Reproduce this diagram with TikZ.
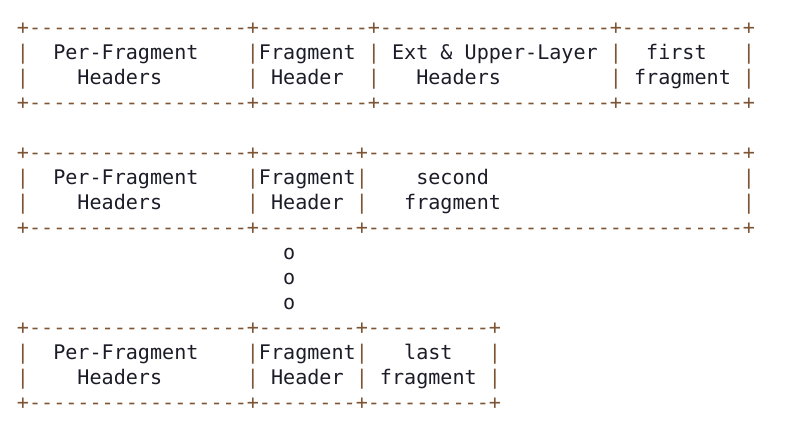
\documentclass[tikz,border=0pt]{standalone}
\usepackage{fontspec}
\setmonofont{DejaVu Sans Mono}
\definecolor{border}{HTML}{7D5535}
\definecolor{ink}{HTML}{1C1C28}
% character grid: column pitch 12.1pt, row pitch 25pt
\newcommand\colx[1]{16.95+12.1*(#1)}
\newcommand\rowy[1]{-(35+25*(#1))}
\tikzset{
  glyph/.style={anchor=base west, inner sep=0pt, outer sep=0pt,
    font=\ttfamily\fontsize{20.1}{25}\selectfont},
  rule/.style={glyph, text=border},
  lbl/.style={glyph, text=ink},
}
\begin{document}
\begin{tikzpicture}[x=1pt,y=1pt]
\useasboundingbox (0,0) rectangle (807,-427);

% --- first fragment packet
\node[rule] (a0) at ({\colx{0}},{\rowy{0}}) {+------------------+---------+-------------------+----------+};
\foreach \c [count=\i] in {0,19,29,49,60}{
  \node[rule] (a1p\i) at ({\colx{\c}},{\rowy{1}}) {|};
  \node[rule] (a2p\i) at ({\colx{\c}},{\rowy{2}}) {|};
}
\node[lbl] (a1l1) at ({\colx{3}},{\rowy{1}}) {Per-Fragment};
\node[lbl] (a1l2) at ({\colx{20}},{\rowy{1}}) {Fragment};
\node[lbl] (a1l3) at ({\colx{31}},{\rowy{1}}) {Ext \& Upper-Layer};
\node[lbl] (a1l4) at ({\colx{52}},{\rowy{1}}) {first};
\node[lbl] (a2l1) at ({\colx{5}},{\rowy{2}}) {Headers};
\node[lbl] (a2l2) at ({\colx{21}},{\rowy{2}}) {Header};
\node[lbl] (a2l3) at ({\colx{33}},{\rowy{2}}) {Headers};
\node[lbl] (a2l4) at ({\colx{51}},{\rowy{2}}) {fragment};
\node[rule] (a3) at ({\colx{0}},{\rowy{3}}) {+------------------+---------+-------------------+----------+};

% --- second fragment packet
\node[rule] (b0) at ({\colx{0}},{\rowy{5}}) {+------------------+--------+-------------------------------+};
\foreach \c [count=\i] in {0,19,28,60}{
  \node[rule] (b1p\i) at ({\colx{\c}},{\rowy{6}}) {|};
  \node[rule] (b2p\i) at ({\colx{\c}},{\rowy{7}}) {|};
}
\node[lbl] (b1l1) at ({\colx{3}},{\rowy{6}}) {Per-Fragment};
\node[lbl] (b1l2) at ({\colx{20}},{\rowy{6}}) {Fragment};
\node[lbl] (b1l3) at ({\colx{33}},{\rowy{6}}) {second};
\node[lbl] (b2l1) at ({\colx{5}},{\rowy{7}}) {Headers};
\node[lbl] (b2l2) at ({\colx{21}},{\rowy{7}}) {Header};
\node[lbl] (b2l3) at ({\colx{32}},{\rowy{7}}) {fragment};
\node[rule] (b3) at ({\colx{0}},{\rowy{8}}) {+------------------+--------+-------------------------------+};

% --- ellipsis
\foreach \r [count=\i] in {9,10,11}{
  \node[lbl] (dot\i) at ({\colx{22}},{\rowy{\r}}) {o};
}

% --- last fragment packet
\node[rule] (c0) at ({\colx{0}},{\rowy{12}}) {+------------------+--------+----------+};
\foreach \c [count=\i] in {0,19,28,39}{
  \node[rule] (c1p\i) at ({\colx{\c}},{\rowy{13}}) {|};
  \node[rule] (c2p\i) at ({\colx{\c}},{\rowy{14}}) {|};
}
\node[lbl] (c1l1) at ({\colx{3}},{\rowy{13}}) {Per-Fragment};
\node[lbl] (c1l2) at ({\colx{20}},{\rowy{13}}) {Fragment};
\node[lbl] (c1l3) at ({\colx{32}},{\rowy{13}}) {last};
\node[lbl] (c2l1) at ({\colx{5}},{\rowy{14}}) {Headers};
\node[lbl] (c2l2) at ({\colx{21}},{\rowy{14}}) {Header};
\node[lbl] (c2l3) at ({\colx{30}},{\rowy{14}}) {fragment};
\node[rule] (c3) at ({\colx{0}},{\rowy{15}}) {+------------------+--------+----------+};
\end{tikzpicture}
\end{document}
